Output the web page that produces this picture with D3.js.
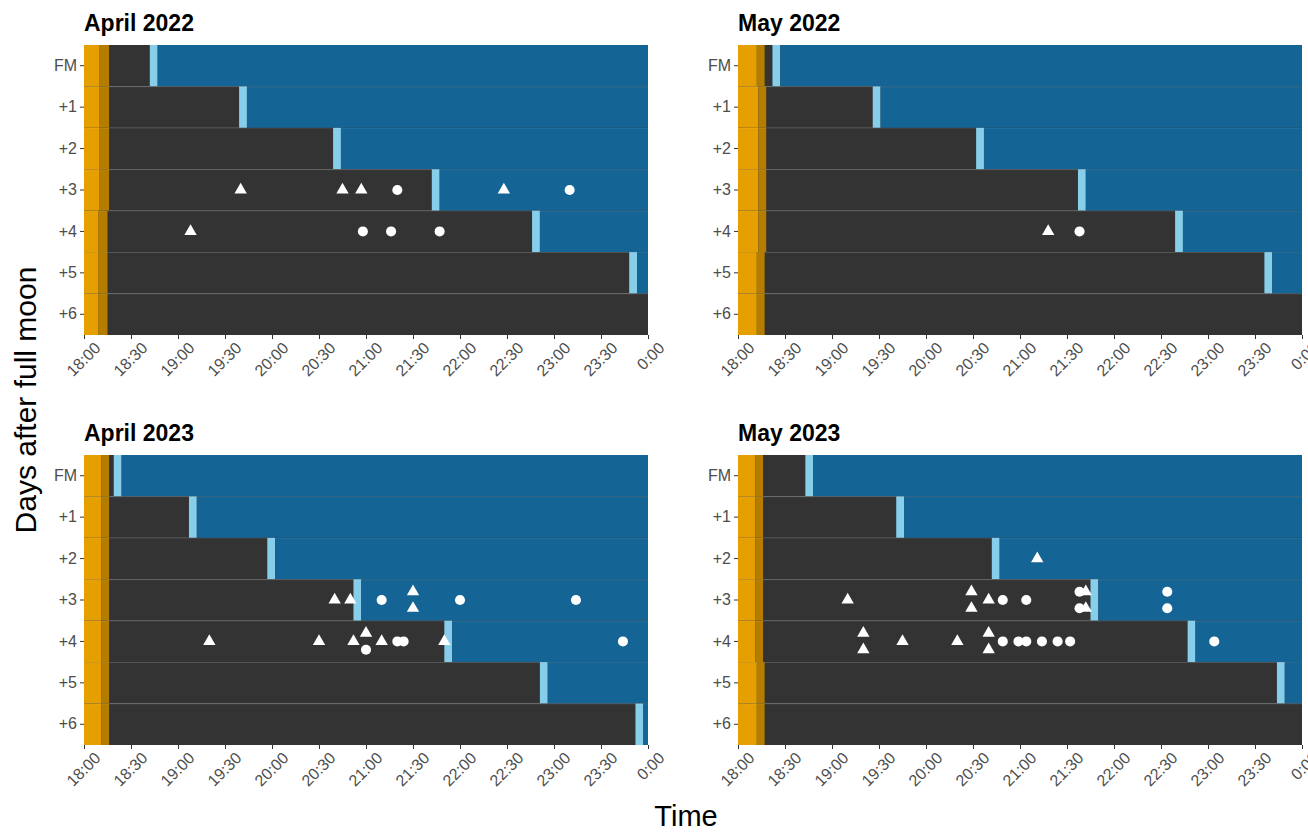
<!DOCTYPE html>
<html>
<head>
<meta charset="utf-8">
<script src="https://cdn.jsdelivr.net/npm/d3@7"></script>
<style>
  body { margin: 0; background: #fff; }
  svg { display: block; font-family: "Liberation Sans", Arial, sans-serif; }
  .panel-title { font-size: 23px; font-weight: bold; fill: #000; }
  .axis text { font-size: 16px; fill: #4d4d4d; }
  .axis line { stroke: #333; }
  .axis path { display: none; }
  .axis-title { font-size: 29px; fill: #000; }
</style>
</head>
<body>
<div id="chart"></div>
<script>
// ---- data ----
const panelTitles = ["April 2022", "May 2022", "April 2023", "May 2023"];
const dayRows = ["FM", "+1", "+2", "+3", "+4", "+5", "+6"];
const timeTicks = ["18:00", "18:30", "19:00", "19:30", "20:00", "20:30", "21:00",
                   "21:30", "22:00", "22:30", "23:00", "23:30", "0:00"];

// end of daylight (orange) per row, one list per panel
const sunset = [
  ["18:10", "18:10", "18:10", "18:10", "18:09", "18:09", "18:09"],
  ["18:12", "18:13", "18:13", "18:13", "18:13", "18:12", "18:12"],
  ["18:11", "18:11", "18:11", "18:11", "18:11", "18:11", "18:11"],
  ["18:11", "18:11", "18:11", "18:11", "18:11", "18:12", "18:12"]
];
// end of twilight (dark orange)
const dusk = [
  ["18:16", "18:16", "18:16", "18:16", "18:15", "18:15", "18:15"],
  ["18:17", "18:18", "18:18", "18:18", "18:18", "18:17", "18:17"],
  ["18:16", "18:16", "18:16", "18:16", "18:16", "18:16", "18:16"],
  ["18:16", "18:16", "18:16", "18:16", "18:16", "18:17", "18:17"]
];
// moonrise (light blue starts), null = moon not up before midnight
const moonrise = [
  ["18:42", "19:39", "20:39", "21:42", "22:46", "23:48", null],
  ["18:22", "19:26", "20:32", "21:37", "22:39", "23:36", null],
  ["18:19", "19:07", "19:57", "20:52", "21:50", "22:51", "23:52"],
  ["18:43", "19:41", "20:42", "21:45", "22:47", "23:44", null]
];
// moon fully up (blue starts)
const moonUp = [
  ["18:47", "19:44", "20:44", "21:47", "22:51", "23:53", null],
  ["18:27", "19:31", "20:37", "21:42", "22:44", "23:41", null],
  ["18:24", "19:12", "20:02", "20:57", "21:55", "22:56", "23:57"],
  ["18:48", "19:46", "20:47", "21:50", "22:52", "23:49", null]
];

// detections: [day, time, kind]  kind: "tri" / "dot"
const detApr22 = [
  ["+3", "19:40", "tri"], ["+3", "20:45", "tri"], ["+3", "20:57", "tri"], ["+3", "21:20", "dot"],
  ["+3", "22:28", "tri"], ["+3", "23:10", "dot"],
  ["+4", "19:08", "tri"], ["+4", "20:58", "dot"], ["+4", "21:16", "dot"], ["+4", "21:47", "dot"]
];
const detMay22 = [
  ["+4", "21:18", "tri"], ["+4", "21:38", "dot"]
];
const detApr23 = [
  ["+3", "20:40", "tri"], ["+3", "20:50", "tri"], ["+3", "21:10", "dot"], ["+3", "21:30", "tri"],
  ["+3", "21:30", "tri"], ["+3", "22:00", "dot"], ["+3", "23:14", "dot"],
  ["+4", "19:20", "tri"], ["+4", "20:30", "tri"], ["+4", "20:52", "tri"], ["+4", "21:00", "tri"],
  ["+4", "21:00", "dot"], ["+4", "21:10", "tri"], ["+4", "21:20", "dot"], ["+4", "21:24", "dot"],
  ["+4", "21:50", "tri"], ["+4", "23:44", "dot"]
];
const detMay23 = [
  ["+2", "21:11", "tri"],
  ["+3", "19:10", "tri"], ["+3", "20:29", "tri"], ["+3", "20:29", "tri"], ["+3", "20:40", "tri"],
  ["+3", "20:49", "dot"], ["+3", "21:04", "dot"], ["+3", "21:38", "dot"], ["+3", "21:38", "dot"],
  ["+3", "21:42", "tri"], ["+3", "21:42", "tri"], ["+3", "22:34", "dot"], ["+3", "22:34", "dot"],
  ["+4", "19:20", "tri"], ["+4", "19:20", "tri"], ["+4", "19:45", "tri"], ["+4", "20:20", "tri"],
  ["+4", "20:40", "tri"], ["+4", "20:40", "tri"], ["+4", "20:49", "dot"], ["+4", "20:59", "dot"],
  ["+4", "21:04", "dot"], ["+4", "21:14", "dot"], ["+4", "21:24", "dot"], ["+4", "21:32", "dot"],
  ["+4", "23:04", "dot"]
];
const detections = [detApr22, detMay22, detApr23, detMay23];

// ---- helpers ----
// minutes after 18:00 ("0:00" = midnight = 360)
function mins(t) {
  const [h, m] = t.split(":").map(Number);
  return (h < 12 ? h + 24 : h) * 60 + m - 18 * 60;
}

const W = 1308, H = 832;
const pw = 564, ph = 290;
const lefts = [84, 738], tops = [45, 455];

const svg = d3.select("#chart").append("svg")
  .attr("width", W).attr("height", H);

const x = d3.scaleLinear().domain([0, 360]).range([0, pw]);
const y = d3.scaleBand().domain(dayRows).range([0, ph]);

const colors = {
  day: "#e69f00", twilight: "#b57d00", night: "#333333",
  rising: "#87ceeb", moon: "#146496"
};

panelTitles.forEach((title, p) => {
  const g = svg.append("g")
    .attr("transform", `translate(${lefts[p % 2]},${tops[Math.floor(p / 2)]})`);

  g.append("text").attr("class", "panel-title")
    .attr("x", 0).attr("y", -14).text(title);

  const rows = dayRows.map((d, i) => ({
    day: d,
    sunset: mins(sunset[p][i]),
    dusk: mins(dusk[p][i]),
    rise: moonrise[p][i] ? mins(moonrise[p][i]) : null,
    up: moonUp[p][i] ? mins(moonUp[p][i]) : null
  }));

  const rg = g.selectAll(".row").data(rows).enter().append("g")
    .attr("transform", d => `translate(0,${y(d.day)})`);

  // night covers the whole row, the rest is painted over it
  rg.append("rect").attr("x", x(0)).attr("width", x(360) - x(0))
    .attr("height", y.bandwidth()).attr("fill", colors.night);
  rg.append("rect").attr("x", x(0)).attr("width", d => x(d.sunset) - x(0))
    .attr("height", y.bandwidth()).attr("fill", colors.day);
  rg.append("rect").attr("x", d => x(d.sunset)).attr("width", d => x(d.dusk) - x(d.sunset))
    .attr("height", y.bandwidth()).attr("fill", colors.twilight);
  rg.filter(d => d.rise !== null).append("rect")
    .attr("x", d => x(d.rise)).attr("width", d => x(d.up) - x(d.rise))
    .attr("height", y.bandwidth()).attr("fill", colors.rising);
  rg.filter(d => d.up !== null).append("rect")
    .attr("x", d => x(d.up)).attr("width", d => x(360) - x(d.up))
    .attr("height", y.bandwidth()).attr("fill", colors.moon);

  // faint seams between rows
  g.selectAll(".seam").data(dayRows.slice(1)).enter().append("line")
    .attr("x1", 0).attr("x2", pw)
    .attr("y1", d => y(d) + 0.5).attr("y2", d => y(d) + 0.5)
    .attr("stroke", "rgba(255,255,255,0.07)").attr("stroke-width", 1);

  // detections, identical times in a row are stacked up/down
  const pts = detections[p].map(d => ({ day: d[0], t: mins(d[1]), kind: d[2] }));
  const groups = d3.group(pts, d => d.day + "|" + d.t);
  groups.forEach(list => {
    if (list.length > 1) list.forEach((d, i) => { d.off = i === 0 ? -0.2 : 0.2; });
  });
  const sym = d3.symbol().type(d => d.kind === "tri" ? d3.symbolTriangle : d3.symbolCircle)
    .size(d => d.kind === "tri" ? 66 : 80);
  g.selectAll(".pt").data(pts).enter().append("path")
    .attr("d", sym)
    .attr("fill", "#fff")
    .attr("transform", d => `translate(${x(d.t)},${y(d.day) + y.bandwidth() * (0.5 + (d.off || 0))})`);

  // axes
  g.append("g").attr("class", "axis")
    .call(d3.axisLeft(y).tickSize(4).tickPadding(3));

  const xa = g.append("g").attr("class", "axis")
    .attr("transform", `translate(0,${ph})`)
    .call(d3.axisBottom(x).tickValues(d3.range(0, 361, 30)).tickSize(4)
      .tickFormat((d, i) => timeTicks[i]));
  xa.selectAll("text")
    .attr("text-anchor", "end")
    .attr("dy", "0.71em")
    .attr("y", 0)
    .attr("transform", "translate(9,6) rotate(-45)");
});

// axis titles
svg.append("text").attr("class", "axis-title")
  .style("font-size", "30px")
  .attr("text-anchor", "middle")
  .attr("transform", "translate(36,400) rotate(-90)")
  .text("Days after full moon");
svg.append("text").attr("class", "axis-title")
  .attr("text-anchor", "middle")
  .attr("x", 686).attr("y", 826)
  .text("Time");
</script>
</body>
</html>
